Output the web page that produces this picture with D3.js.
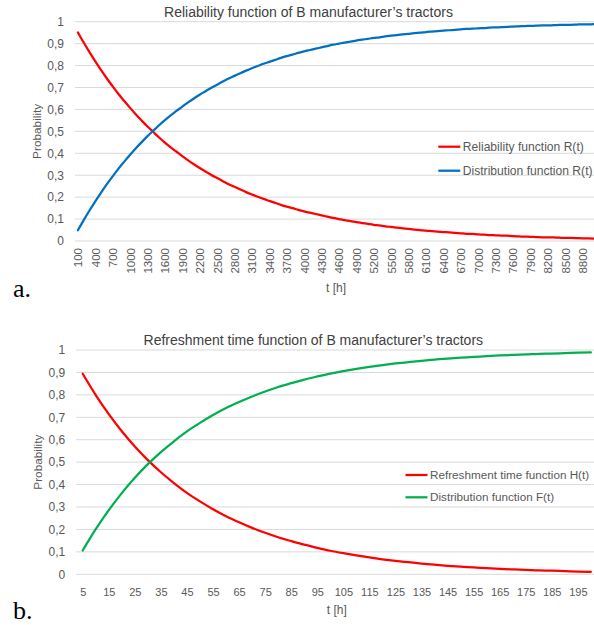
<!DOCTYPE html>
<html><head><meta charset="utf-8">
<script src="https://cdn.jsdelivr.net/npm/d3@7"></script>
<style>
body{margin:0;background:#fff}
svg{display:block}
text{font-family:"Liberation Sans",Arial,sans-serif}
</style>
</head><body>
<svg id="chart" width="594" height="625"></svg>
<script>
// Panel a: operating time of tractors [h]
const hoursA = [100,200,300,400,500,600,700,800,900,1000,
  1100,1200,1300,1400,1500,1600,1700,1800,1900,2000,
  2100,2200,2300,2400,2500,2600,2700,2800,2900,3000,
  3100,3200,3300,3400,3500,3600,3700,3800,3900,4000,
  4100,4200,4300,4400,4500,4600,4700,4800,4900,5000,
  5100,5200,5300,5400,5500,5600,5700,5800,5900,6000,
  6100,6200,6300,6400,6500,6600,6700,6800,6900,7000,
  7100,7200,7300,7400,7500,7600,7700,7800,7900,8000,
  8100,8200,8300,8400,8500,8600,8700,8800,8900,9000];
const reliabilityA = [0.951,0.905,0.861,0.819,0.779,0.741,0.705,0.670,0.638,0.607,
  0.577,0.549,0.522,0.497,0.472,0.449,0.427,0.407,0.387,0.368,
  0.350,0.333,0.317,0.301,0.287,0.273,0.259,0.247,0.235,0.223,
  0.212,0.202,0.192,0.183,0.174,0.165,0.157,0.150,0.142,0.135,
  0.129,0.123,0.117,0.111,0.105,0.100,0.095,0.091,0.086,0.082,
  0.078,0.074,0.071,0.067,0.064,0.061,0.058,0.055,0.052,0.050,
  0.047,0.045,0.043,0.041,0.039,0.037,0.035,0.033,0.032,0.030,
  0.029,0.027,0.026,0.025,0.024,0.022,0.021,0.020,0.019,0.018,
  0.017,0.017,0.016,0.015,0.014,0.014,0.013,0.012,0.012,0.011];
const distributionA = [0.049,0.095,0.139,0.181,0.221,0.259,0.295,0.330,0.362,0.393,
  0.423,0.451,0.478,0.503,0.528,0.551,0.573,0.593,0.613,0.632,
  0.650,0.667,0.683,0.699,0.713,0.727,0.741,0.753,0.765,0.777,
  0.788,0.798,0.808,0.817,0.826,0.835,0.843,0.850,0.858,0.865,
  0.871,0.877,0.883,0.889,0.895,0.900,0.905,0.909,0.914,0.918,
  0.922,0.926,0.929,0.933,0.936,0.939,0.942,0.945,0.948,0.950,
  0.953,0.955,0.957,0.959,0.961,0.963,0.965,0.967,0.968,0.970,
  0.971,0.973,0.974,0.975,0.976,0.978,0.979,0.980,0.981,0.982,
  0.983,0.983,0.984,0.985,0.986,0.986,0.987,0.988,0.988,0.989];
const tickLabelsA = [100,400,700,1000,1300,1600,1900,2200,2500,2800,
  3100,3400,3700,4000,4300,4600,4900,5200,5500,5800,
  6100,6400,6700,7000,7300,7600,7900,8200,8500,8800];

// Panel b: refreshment time [h]
const hoursB = [5,10,15,20,25,30,35,40,45,50,
  55,60,65,70,75,80,85,90,95,100,
  105,110,115,120,125,130,135,140,145,150,
  155,160,165,170,175,180,185,190,195,200];
const refreshmentB = [0.894,0.799,0.714,0.638,0.570,0.509,0.455,0.407,0.363,0.325,
  0.290,0.259,0.232,0.207,0.185,0.165,0.148,0.132,0.118,0.105,
  0.094,0.084,0.075,0.067,0.060,0.054,0.048,0.043,0.038,0.034,
  0.031,0.027,0.024,0.022,0.020,0.017,0.016,0.014,0.012,0.011];
const distributionB = [0.106,0.201,0.286,0.362,0.430,0.491,0.545,0.593,0.637,0.675,
  0.710,0.741,0.768,0.793,0.815,0.835,0.852,0.868,0.882,0.895,
  0.906,0.916,0.925,0.933,0.940,0.946,0.952,0.957,0.962,0.966,
  0.969,0.973,0.976,0.978,0.980,0.983,0.984,0.986,0.988,0.989];
const tickLabelsB = [5,15,25,35,45,55,65,75,85,95,
  105,115,125,135,145,155,165,175,185,195];

const probabilityTicks = [0,0.1,0.2,0.3,0.4,0.5,0.6,0.7,0.8,0.9,1];

const fmt = d3.formatLocale({decimal: ",", thousands: " ", grouping: [3], currency: ["", ""]}).format("~g");
const svg = d3.select("#chart");
const LABEL = "#595959", GRID = "#d9d9d9";

function panel(o) {
  const g = svg.append("g");
  const x = d3.scalePoint().domain(o.hours).range([o.left, o.right]).padding(0.5);
  const y = d3.scaleLinear().domain([0, 1]).range([o.bottom, o.top]);

  // horizontal gridlines
  g.append("g").selectAll("line").data(probabilityTicks).join("line")
    .attr("x1", o.left).attr("x2", o.right)
    .attr("y1", d => y(d)).attr("y2", d => y(d))
    .attr("stroke", GRID).attr("stroke-width", 1);

  // y axis labels
  const ya = g.append("g").attr("transform", `translate(${o.left},0)`)
    .call(d3.axisLeft(y).tickValues(probabilityTicks).tickFormat(fmt).tickSize(0).tickPadding(11));
  ya.select(".domain").remove();
  ya.selectAll("text").attr("fill", LABEL).style("font-size", "12px")
    .style("font-family", '"Liberation Sans",Arial,sans-serif');

  // x axis labels
  const xa = g.append("g").attr("transform", `translate(0,${o.bottom})`)
    .call(d3.axisBottom(x).tickValues(o.ticks).tickSize(0));
  xa.select(".domain").remove();
  xa.selectAll("text").attr("fill", LABEL)
    .style("font-family", '"Liberation Sans",Arial,sans-serif');
  if (o.rotate) {
    xa.selectAll("text").style("font-size", "11.5px")
      .attr("text-anchor", "end").attr("transform", "rotate(-90)")
      .attr("x", -7).attr("y", 0).attr("dy", "0.35em");
  } else {
    xa.selectAll("text").style("font-size", "11px").attr("y", 0)
      .attr("dy", o.tickBaseline - o.bottom);
  }

  // series
  const line = d3.line().x((d, i) => x(o.hours[i])).y(d => y(d)).curve(d3.curveMonotoneX);
  o.series.forEach(s => {
    g.append("path").datum(s.values).attr("d", line)
      .attr("fill", "none").attr("stroke", s.color).attr("stroke-width", 2.25)
      .attr("stroke-linejoin", "round").attr("stroke-linecap", "round");
  });

  // titles
  g.append("text").attr("x", o.titleX).attr("y", o.titleY).attr("text-anchor", "middle")
    .attr("fill", "#404040").style("font-size", "14px").text(o.title);
  g.append("text").attr("transform", `translate(${o.yTitleX},${(o.top + o.bottom) / 2}) rotate(-90)`)
    .attr("text-anchor", "middle").attr("fill", LABEL).style("font-size", "11.8px").text("Probability");
  g.append("text").attr("x", (o.left + o.right) / 2).attr("y", o.xTitleY).attr("text-anchor", "middle")
    .attr("fill", LABEL).style("font-size", "12px").text("t [h]");

  // legend
  o.series.forEach((s, i) => {
    const ly = o.legendY + i * o.legendGap;
    g.append("line").attr("x1", o.legendX).attr("x2", o.legendX + 22)
      .attr("y1", ly).attr("y2", ly).attr("stroke", s.color).attr("stroke-width", 2.25);
    g.append("text").attr("x", o.legendX + 24.5).attr("y", ly).attr("dy", "0.35em")
      .attr("fill", LABEL).style("font-size", o.legendFont).text(s.name);
  });

  // panel letter
  svg.append("text").attr("x", 13).attr("y", o.letterY)
    .style("font-family", '"Liberation Serif","Times New Roman",serif')
    .style("font-size", "26px").attr("fill", "#000").text(o.letter);
}

panel({
  hours: hoursA, ticks: tickLabelsA, rotate: true,
  left: 75, right: 597, top: 21.7, bottom: 241,
  title: "Reliability function of B manufacturer\u2019s tractors", titleX: 308.5, titleY: 17,
  yTitleX: 40.5, xTitleY: 292,
  legendX: 438.3, legendY: 146.7, legendGap: 24, legendFont: "12.1px",
  series: [
    {name: "Reliability function R(t)", values: reliabilityA, color: "#ff0000"},
    {name: "Distribution function R(t)", values: distributionA, color: "#0070c0"}
  ],
  letter: "a.", letterY: 297
});

panel({
  hours: hoursB, ticks: tickLabelsB, rotate: false, tickBaseline: 596.5,
  left: 76.2, right: 597.4, top: 350, bottom: 574.3,
  title: "Refreshment time function of B manufacturer\u2019s tractors", titleX: 313.3, titleY: 345,
  yTitleX: 41.5, xTitleY: 614,
  legendX: 405.5, legendY: 475, legendGap: 22.3, legendFont: "11.7px",
  series: [
    {name: "Refreshment time function H(t)", values: refreshmentB, color: "#ff0000"},
    {name: "Distribution function F(t)", values: distributionB, color: "#00b050"}
  ],
  letter: "b.", letterY: 619
});
</script>
</body></html>
